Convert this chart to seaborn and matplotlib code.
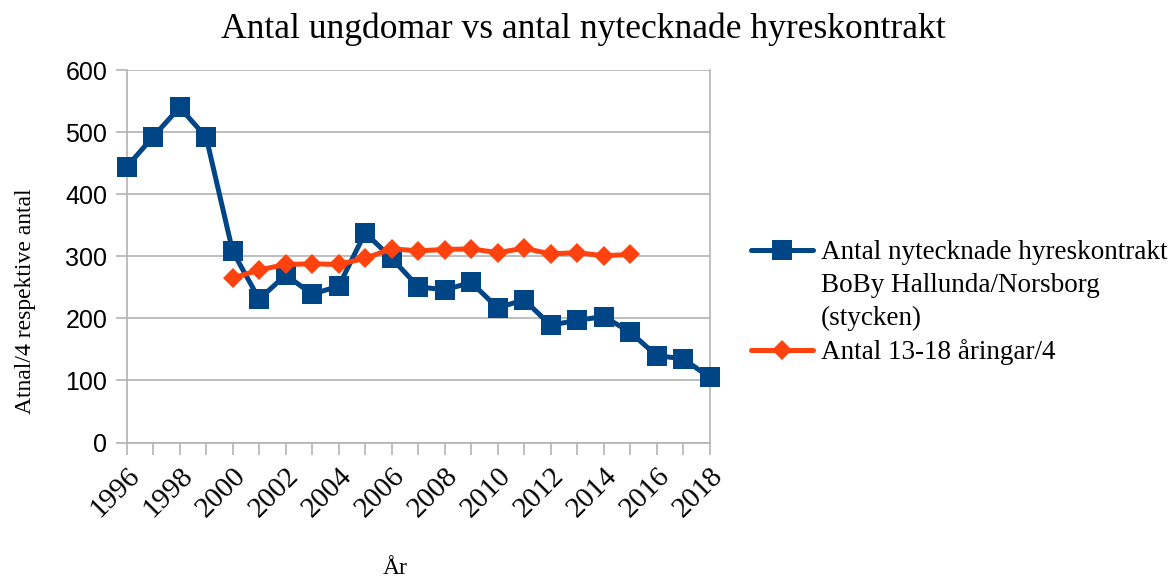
import matplotlib
matplotlib.use("Agg")
import matplotlib.pyplot as plt
import seaborn as sns
import pandas as pd
from matplotlib.lines import Line2D

# data
contract_years = list(range(1996, 2019))
contracts = [444, 493, 540, 492, 308, 231, 270, 239, 252, 338, 297,
             251, 246, 258, 217, 230, 189, 197, 203, 178, 140, 135, 105]
youth_years = list(range(2000, 2016))
youth_div4 = [265, 278, 287, 288, 287, 297, 312, 309, 311, 312, 306,
              313, 304, 306, 301, 303]

title = "Antal ungdomar vs antal nytecknade hyreskontrakt"
label_contracts = ["Antal nytecknade hyreskontrakt", "BoBy Hallunda/Norsborg", "(stycken)"]
label_youth = "Antal 13-18 åringar/4"
x_label = "År"
y_label = "Atnal/4 respektive antal"
y_ticks = [0, 100, 200, 300, 400, 500, 600]
x_ticks = list(range(1996, 2019, 2))

BLUE = "#004586"
ORANGE = "#ff420e"
GRID = "#b3b3b3"
SERIF = ["Liberation Serif", "DejaVu Serif"]
SANS = ["Liberation Sans", "DejaVu Sans"]

sns.set_style("white")
plt.rcParams["font.family"] = SERIF
plt.rcParams["text.color"] = "black"
plt.rcParams["axes.labelcolor"] = "black"
plt.rcParams["xtick.color"] = "black"
plt.rcParams["ytick.color"] = "black"

df_c = pd.DataFrame({"year": contract_years, "value": contracts})
df_y = pd.DataFrame({"year": youth_years, "value": youth_div4})

fig = plt.figure(figsize=(11.73, 5.8), dpi=100)
ax = fig.add_axes([0.108, 0.237, 0.497, 0.642])

sq = dict(color=BLUE, linewidth=3.6, marker="s", markersize=14.5, markeredgewidth=0)
dm = dict(color=ORANGE, linewidth=3.6, marker="D", markersize=10.5, markeredgewidth=0)

sns.lineplot(data=df_c, x="year", y="value", ax=ax, zorder=3, clip_on=False, **sq)
sns.lineplot(data=df_y, x="year", y="value", ax=ax, zorder=4, clip_on=False, **dm)

ax.set_xlim(1996, 2018)
ax.set_ylim(0, 600)
ax.set_yticks(y_ticks)
ax.set_xticks(x_ticks)
ax.set_xticks(contract_years, minor=True)
ax.yaxis.grid(True, color=GRID, linewidth=1.2)
ax.set_axisbelow(True)
for side in ["left", "right", "bottom"]:
    ax.spines[side].set_color(GRID)
    ax.spines[side].set_linewidth(1.2)
ax.spines["top"].set_visible(False)
ax.tick_params(axis="both", which="both", direction="out", color=GRID, width=1.2)
ax.tick_params(axis="x", which="both", length=8.5, bottom=True, labelsize=21, pad=6)
ax.tick_params(axis="y", length=8, left=True, labelsize=18, pad=6)
for t in ax.get_yticklabels():
    t.set_fontfamily(SANS)
plt.setp(ax.get_xticklabels(), rotation=45, ha="right", rotation_mode="anchor")

ax.set_xlabel(x_label, fontsize=17)
ax.set_ylabel(y_label, fontsize=17)
ax.xaxis.set_label_coords(0.46, -0.31)
ax.yaxis.set_label_coords(-0.155, 0.38)

fig.text(0.497, 1 - 29 / 580, title, ha="center", va="center", fontsize=25.6)

# legend: extra label lines as blank-handle entries so the marker sits on line one
blank = Line2D([], [], color="none")
handles = [Line2D([], [], **sq), blank, blank, Line2D([], [], **dm)]
labels = label_contracts + [label_youth]
fig.legend(handles, labels, loc="upper left", bbox_to_anchor=(0.640, 1 - 240 / 580),
           frameon=False, fontsize=19.5, handlelength=2.3, handletextpad=0.3,
           labelspacing=0.3, borderaxespad=0, borderpad=0)

fig.savefig("out.png", dpi=100)
